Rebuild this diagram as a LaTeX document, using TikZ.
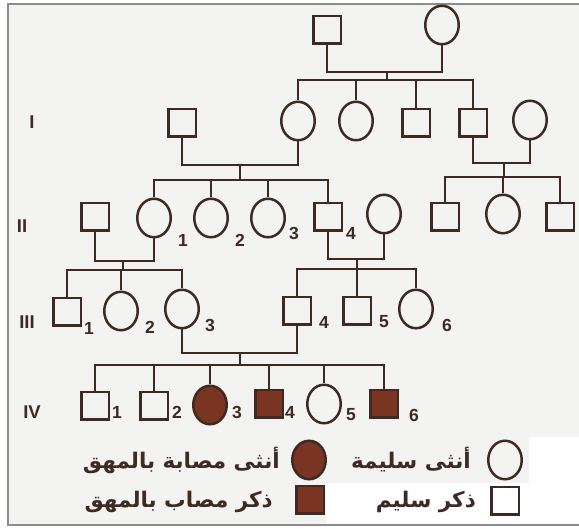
\documentclass[tikz,border=0pt]{standalone}
\usepackage{fontspec}
\setmainfont{Liberation Sans}
\newfontfamily\arabicfont[Script=Arabic]{DejaVu Sans}
\TeXXeTstate=1
\usetikzlibrary{calc}
\usetikzlibrary{positioning}
\usetikzlibrary{shapes.geometric}

\definecolor{ink}{RGB}{62,42,34}
\definecolor{albino}{RGB}{122,52,34}
\definecolor{paper}{RGB}{243,243,241}
\definecolor{edge}{RGB}{140,140,140}

\tikzstyle{male}=[
  draw=ink,
  line width=2.5pt,
  minimum size=27.5pt,
  inner sep=0pt
]
\tikzstyle{female}=[
  draw=ink,
  line width=2.5pt,
  ellipse,
  minimum width=33.5pt,
  minimum height=38.5pt,
  inner sep=0pt
]
\tikzstyle{sick}=[fill=albino]
\tikzstyle{tie}=[
  draw=ink,
  line width=2.4pt
]
\tikzstyle{num}=[
  text=ink,
  inner sep=0pt,
  font=\fontsize{17.5}{17.5}\selectfont\bfseries
]
\tikzstyle{gen}=[
  text=ink,
  inner sep=0pt,
  font=\fontsize{18.5}{18.5}\selectfont\bfseries
]
\tikzstyle{keytext}=[
  text=ink,
  inner sep=0pt,
  anchor=east,
  font=\arabicfont\fontsize{21.5}{21.5}\selectfont\bfseries
]

% parents joined below, then a bar down to the children
\newcommand{\mate}[3]{
  \draw[tie] (#1.south) |- (#3) -| (#2.south);
}
\newcommand{\offspring}[3]{
  \draw[tie] (#1) -- (#2);
  \foreach \c in {#3} \draw[tie] (#2) -| (\c.north);
}

\begin{document}
\begin{tikzpicture}[x=1pt, y=-1pt]
  \useasboundingbox (0,0) rectangle (579,529);
  \fill[white] (0,0) rectangle (579,529);
  \fill[paper] (8,4) rectangle (579,525);
  \fill[white] (529,437) rectangle (579,524);
  \fill[white] (326,483) rectangle (579,524);
  \draw[edge, line width=1.5pt] (585,4) -- (8,4) -- (8,525) -- (585,525);

  \node[gen] (gI)   at (32, 122) {I};
  \node[gen] (gII)  at (22, 226) {II};
  \node[gen] (gIII) at (27, 322) {III};
  \node[gen] (gIV)  at (32, 412) {IV};

  \node[male  ] (o1) at (327,  30) {};
  \node[female] (o2) at (442,  25) {};

  \node[male  ] (a1) at (182, 123) {};
  \node[female] (a2) at (298, 121) {};
  \node[female] (a3) at (356, 121) {};
  \node[male  ] (a4) at (416, 123) {};
  \node[male  ] (a5) at (473, 123) {};
  \node[female] (a6) at (530, 120) {};

  \node[male  ] (b0) at ( 95, 217) {};
  \node[female] (b1) at (154, 218) {};
  \node[female] (b2) at (211, 218) {};
  \node[female] (b3) at (268, 218) {};
  \node[male  ] (b4) at (328, 217) {};
  \node[female] (b5) at (384, 214) {};
  \node[male  ] (b6) at (445, 217) {};
  \node[female] (b7) at (503, 214) {};
  \node[male  ] (b8) at (560, 217) {};

  \node[male  ] (c1) at ( 67, 312) {};
  \node[female] (c2) at (121, 311) {};
  \node[female] (c3) at (182, 309) {};
  \node[male  ] (c4) at (297, 311) {};
  \node[male  ] (c5) at (357, 311) {};
  \node[female] (c6) at (416, 309) {};

  \node[male        ] (d1) at ( 95, 406) {};
  \node[male        ] (d2) at (154, 406) {};
  \node[female, sick] (d3) at (210, 405) {};
  \node[male,   sick] (d4) at (269, 404) {};
  \node[female      ] (d5) at (324, 404) {};
  \node[male,   sick] (d6) at (384, 404) {};

  \node[num] (nb1) at (183, 240) {1};
  \node[num] (nb2) at (240, 240) {2};
  \node[num] (nb3) at (294, 233) {3};
  \node[num] (nb4) at (351, 233) {4};
  \node[num] (nc1) at ( 89, 328) {1};
  \node[num] (nc2) at (150, 327) {2};
  \node[num] (nc3) at (210, 325) {3};
  \node[num] (nc4) at (324, 322) {4};
  \node[num] (nc5) at (384, 322) {5};
  \node[num] (nc6) at (447, 325) {6};
  \node[num] (nd1) at (117, 412) {1};
  \node[num] (nd2) at (177, 412) {2};
  \node[num] (nd3) at (237, 412) {3};
  \node[num] (nd4) at (290, 412) {4};
  \node[num] (nd5) at (351, 415) {5};
  \node[num] (nd6) at (414, 415) {6};

  \coordinate (m0) at (387,  72); \coordinate (s0) at (387,  80);
  \coordinate (m1) at (240, 165); \coordinate (s1) at (240, 180);
  \coordinate (m2) at (504, 163); \coordinate (s2) at (504, 177);
  \coordinate (m3) at (123, 261); \coordinate (s3) at (123, 270);
  \coordinate (m4) at (357, 259); \coordinate (s4) at (357, 269);
  \coordinate (m5) at (240, 353); \coordinate (s5) at (240, 365);

  \mate{o1}{o2}{m0} \offspring{m0}{s0}{a2,a3,a4,a5}
  \mate{a1}{a2}{m1} \offspring{m1}{s1}{b1,b2,b3,b4}
  \mate{a5}{a6}{m2} \offspring{m2}{s2}{b6,b7,b8}
  \mate{b0}{b1}{m3} \offspring{m3}{s3}{c1,c2,c3}
  \mate{b4}{b5}{m4} \offspring{m4}{s4}{c4,c5,c6}
  \mate{c3}{c4}{m5} \offspring{m5}{s5}{d1,d2,d3,d4,d5,d6}

  % key
  \node[female      ] (kf)  at (505, 460) {};
  \node[male        ] (km)  at (505, 501) {};
  \node[female, sick] (ksf) at (309, 460) {};
  \node[male,   sick] (ksm) at (310, 500) {};
  \node[keytext] (tf)  at (471, 460) {\beginR أنثى سليمة\endR};
  \node[keytext] (tm)  at (476, 502) {\beginR ذكر سليم\endR};
  \node[keytext] (tsf) at (280, 460) {\beginR أنثى مصابة بالمهق\endR};
  \node[keytext] (tsm) at (273, 502) {\beginR ذكر مصاب بالمهق\endR};
\end{tikzpicture}
\end{document}
